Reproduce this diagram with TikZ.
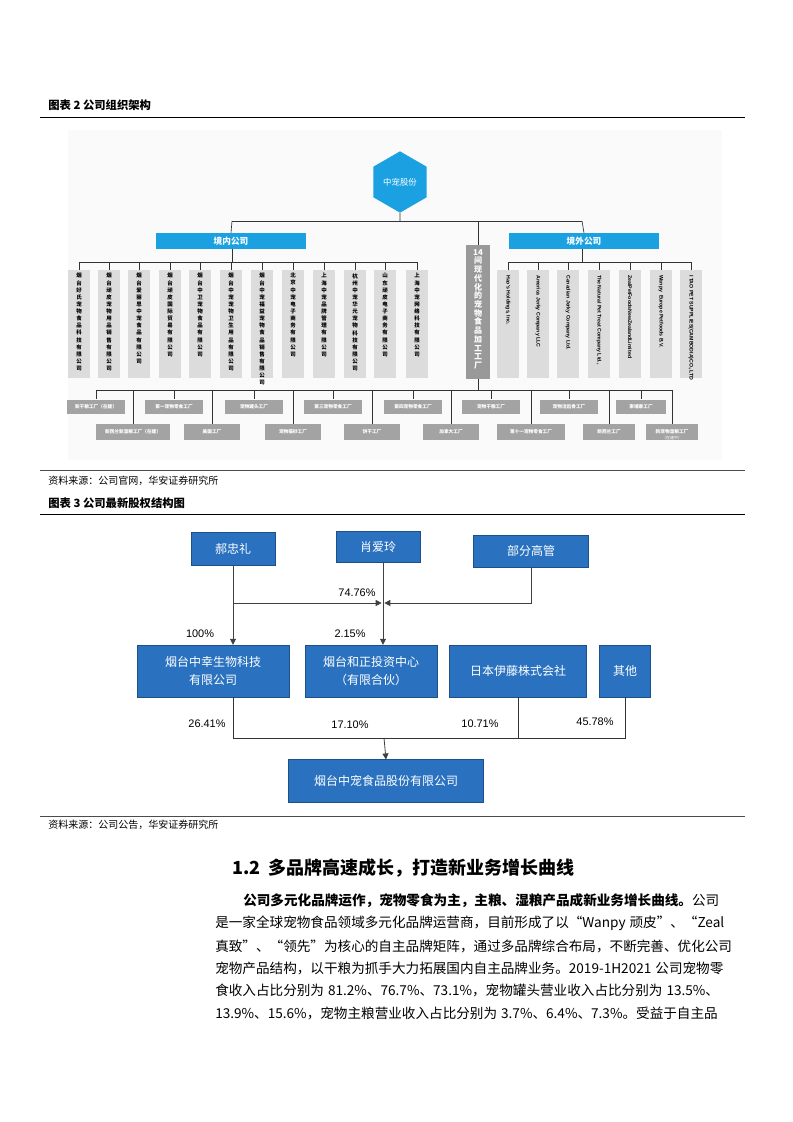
\documentclass[tikz,border=0pt]{standalone}
\usepackage{fontspec}
\setmainfont{Noto Sans CJK SC}
\newfontfamily\lat{Liberation Sans}
\usetikzlibrary{shapes.geometric,arrows.meta}
\XeTeXlinebreaklocale "zh"
\XeTeXlinebreakskip=0pt plus 1pt
\definecolor{cyanb}{HTML}{1BA1E2}
\definecolor{blueb}{HTML}{2A72C0}
\definecolor{gbox}{HTML}{DCDCDC}
\definecolor{fbox}{HTML}{A3A3A3}
\newcommand\fsp{\hspace{3pt}}
\tikzset{
 ln/.style={draw=black!80,line width=0.5pt},
 dom/.style={fill=gbox,minimum width=16.5pt,minimum height=81pt,anchor=north,inner sep=0pt},
 vt/.style={anchor=north,text width=5pt,align=center,inner sep=0pt,font=\fontsize{4.1}{5.35}\selectfont\bfseries},
 ot/.style={rotate=-90,anchor=west,inner sep=0pt,font=\lat\fontsize{3.9}{4}\selectfont\bfseries},
 fac/.style={fill=fbox,text=white,minimum height=11pt,inner sep=1pt,font=\fontsize{3.5}{4}\selectfont\bfseries},
 bb/.style={fill=blueb,draw=blueb!70!black,line width=0.3pt,text=white,inner sep=2pt,align=center,font=\fontsize{9}{13}\selectfont},
 pct/.style={font=\lat\fontsize{8.2}{9}\selectfont,inner sep=0pt},
 ar/.style={-{Triangle[length=4.5pt,width=4.5pt]},draw=black!75,line width=0.6pt},
 hdr/.style={anchor=west,inner sep=0pt,font=\fontsize{8.5}{10}\selectfont\bfseries},
 src/.style={anchor=west,inner sep=0pt,font=\fontsize{7.5}{9}\selectfont},
 para/.style={anchor=west,inner sep=0pt,font=\fontsize{10.2}{12}\selectfont}
}
\begin{document}
\begin{tikzpicture}[x=0.75pt,y=-0.75pt]
\useasboundingbox[fill=white] (0,0) rectangle (793,1122);
% headers
\node[hdr] (h2) at (48,105) {图表 2 公司组织架构};
\draw[line width=0.6pt] (40,117) -- (745,117);
\fill[black!2] (68,130) rectangle (722,460);
% org chart
\node[regular polygon,regular polygon sides=6,shape border rotate=30,fill=cyanb,minimum size=46pt,inner sep=0pt,text=white,font=\fontsize{6.3}{7}\selectfont] (zc) at (400,182) {中宠股份};
\node[fill=cyanb,minimum width=112pt,minimum height=12pt,inner sep=0pt,text=white,font=\fontsize{6.5}{7}\selectfont\bfseries] (jn) at (231,241) {境内公司};
\node[fill=cyanb,minimum width=112pt,minimum height=12pt,inner sep=0pt,text=white,font=\fontsize{6.5}{7}\selectfont\bfseries] (jw) at (584,241) {境外公司};
\node[fill=black!40,minimum width=18pt,minimum height=100pt,anchor=north,inner sep=0pt] (f14) at (478,245) {};
\node[anchor=north,text width=8pt,align=center,inner sep=0pt,text=white,font=\fontsize{6}{6.55}\selectfont\bfseries] (f14t) at (478,249) {14\\间现代化的宠物食品加工工厂};
\coordinate (t1) at (232,221); \coordinate (t2) at (582,221); \coordinate (t3) at (478,221);
\draw[ln] (zc.south) -- (400,221);
\draw[ln] (t1) -- (t2);
\draw[ln] (t1) -- (jn.north);
\draw[ln] (t2) -- (jw.north);
\draw[ln] (t3) -- (f14.north);
% domestic
\draw[ln] (79,262) -- (417,262);
\draw[ln] (232,249) -- (232,262);
\foreach \x/\t [count=\i] in {79/烟台好氏宠物食品科技有限公司,109/烟台顽皮宠物用品销售有限公司,139/烟台爱丽思中宠食品有限公司,170/烟台顽皮国际贸易有限公司,200/烟台中卫宠物食品有限公司,231/烟台中宠宠物卫生用品有限公司,262/烟台中宠福益宠物食品销售有限公司,293/北京中宠电子商务有限公司,324/上海中宠品牌管理有限公司,355/杭州中宠华元宠物科技有限公司,385/山东顽皮电子商务有限公司,417/上海中宠网络科技有限公司}{
 \node[dom] (d\i) at (\x,270) {};
 \draw[ln] (\x,262) -- (d\i.north);
 \node[vt] (dt\i) at (\x,273) {\t};
}
% overseas
\draw[ln] (508,262) -- (691,262);
\draw[ln] (582,249) -- (582,262);
\foreach \x/\t [count=\i] in {508/Hao's Holdings{,} Inc.,538/America Jerky Company LLC,568/Canadian Jerky Company Ltd.,599/The Natural Pet Treat Company Ltd.{,},630/ZealPetFoodsNewZealandLimited,661/Wanpy\ \ Europe Petfoods B.V.,691/I TAO PET SUPPLIES(CAMBODIA)CO.{,}LTD}{
 \node[dom] (o\i) at (\x,270) {};
 \draw[ln] (\x,262) -- (o\i.north);
 \node[ot] (ot\i) at (\x,275) {\t};
}
% factories
\draw[ln] (f14.south) -- (478,390);
\draw[ln] (96,390) -- (672,390);
\foreach \x/\w/\t [count=\i] in {96/58/新干粮工厂（在建）,174/58/第一宠物零食工厂,254/58/宠物罐头工厂,333/58/第三宠物零食工厂,413/58/第四宠物零食工厂,491/58/宠物干粮工厂,569/58/宠物洁齿骨工厂,641/50/柬埔寨工厂}{
 \node[fac,minimum width=\w*0.75pt] (fu\i) at (\x,407) {\t};
 \draw[ln] (\x,390) -- (fu\i.north);
}
\foreach \x/\w/\t [count=\i] in {133/74/新西兰新湿粮工厂（在建）,212/56/美国工厂,293/56/宠物猫砂工厂,372/56/饼干工厂,451/56/加拿大工厂,531/68/第十一宠物零食工厂,609/52/新西兰工厂,672/52/新宠物湿粮工厂}{
 \node[fac,minimum width=\w*0.75pt,minimum height=12pt] (fl\i) at (\x,432) {\t};
 \draw[ln] (\x,390) -- (fl\i.north);
}
\node[text=white,inner sep=0pt,font=\fontsize{3}{3}\selectfont] (zj) at (672,437.5) {（在建中）};
\draw[line width=0.5pt,black!70] (40,470) -- (745,470);
\node[src] (s2) at (48,481) {资料来源：公司官网，华安证券研究所};
\node[hdr] (h3) at (48,503) {图表 3 公司最新股权结构图};
\draw[line width=0.6pt] (40,514) -- (745,514);
% equity chart
\node[bb,minimum width=63pt,minimum height=25pt] (hz) at (233,549) {郝忠礼};
\node[bb,minimum width=63pt,minimum height=23pt] (xa) at (378,547) {肖爱玲};
\node[bb,minimum width=86pt,minimum height=24pt] (bf) at (531,551) {部分高管};
\node[bb,minimum width=114pt,minimum height=39pt] (yx) at (213,671) {烟台中幸生物科技\\有限公司};
\node[bb,minimum width=99pt,minimum height=39pt] (hz2) at (371,671) {烟台和正投资中心\\（有限合伙）};
\node[bb,minimum width=103pt,minimum height=39pt] (rb) at (518,671) {日本伊藤株式会社};
\node[bb,minimum width=38pt,minimum height=39pt] (qt) at (625,671) {其他};
\node[bb,minimum width=146pt,minimum height=32pt] (zcg) at (386,781) {烟台中宠食品股份有限公司};
\coordinate (mj) at (383,603);
\draw[ar] (hz.south) -- (hz.south |- yx.north);
\draw[ar] (hz.south |- mj) -- ([xshift=-1pt]mj);
\draw[ar] (bf.south) |- ([xshift=1pt]mj);
\draw[ar] (xa.south -| mj) -- (mj |- hz2.north);
\coordinate (bj) at (384,738);
\draw[ln,line width=0.6pt] (yx.south -| hz.south) |- (qt.south |- bj) -- (qt.south);
\draw[ln,line width=0.6pt] (rb.south) -- (rb.south |- bj);
\draw[ar] (bj) -- (zcg.north);
\node[pct] (p1) at (357,593) {74.76\%};
\node[pct] (p2) at (200,634) {100\%};
\node[pct] (p3) at (350,634) {2.15\%};
\node[pct] (p4) at (207,724) {26.41\%};
\node[pct] (p5) at (350,725) {17.10\%};
\node[pct] (p6) at (480,724) {10.71\%};
\node[pct] (p7) at (595,722) {45.78\%};
\draw[line width=0.5pt,black!70] (40,816) -- (745,816);
\node[src] (s3) at (48,825) {资料来源：公司公告，华安证券研究所};
% section text
\node[anchor=west,inner sep=0pt,font=\fontsize{13.5}{15}\selectfont\bfseries] (sec) at (232,868) {1.2\ \ 多品牌高速成长，打造新业务增长曲线};
\node[para] (l1) at (243,901) {\makebox[370pt][s]{\textbf{公司多元化品牌运作，宠物零食为主，主粮、湿粮产品成新业务增长曲线。}公司}};
\node[para] (l2) at (215,923) {\makebox[391pt][s]{是一家全球宠物食品领域多元化品牌运营商，目前形成了以“Wanpy\fsp{}顽皮”、“Zeal}};
\node[para] (l3) at (215,946) {\makebox[391pt][s]{真致”、“领先”为核心的自主品牌矩阵，通过多品牌综合布局，不断完善、优化公司}};
\node[para] (l4) at (215,968) {\makebox[391pt][s]{宠物产品结构，以干粮为抓手大力拓展国内自主品牌业务。2019-1H2021\fsp{}公司宠物零}};
\node[para] (l5) at (215,990) {\makebox[391pt][s]{食收入占比分别为\fsp{}81.2\%、76.7\%、73.1\%，宠物罐头营业收入占比分别为\fsp{}13.5\%、}};
\node[para] (l6) at (215,1013) {\makebox[391pt][s]{13.9\%、15.6\%，宠物主粮营业收入占比分别为\fsp{}3.7\%、6.4\%、7.3\%。受益于自主品}};
\end{tikzpicture}
\end{document}
